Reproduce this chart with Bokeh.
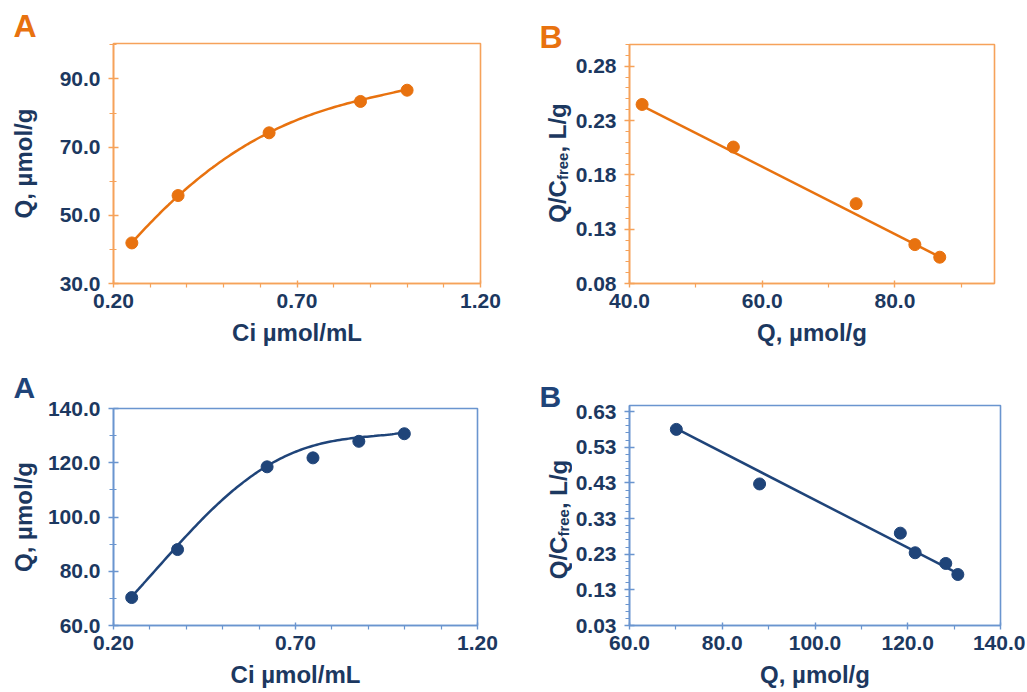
import numpy as np
from bokeh.plotting import figure
from bokeh.layouts import column, row
from bokeh.models import FixedTicker, Label, Range1d, PrintfTickFormatter
from bokeh.embed import file_html
from bokeh.resources import INLINE

# ---------------- data ----------------
# Panel A (top): Langmuir isotherm, orange
tl_ci = [0.25, 0.376, 0.624, 0.873, 1.0]
tl_q = [41.9, 55.8, 74.2, 83.4, 86.7]
tl_fit_ci = [0.25, 0.376, 0.4375, 0.528, 0.624, 0.7095, 0.80, 0.873, 1.0]
tl_fit_q = [41.9, 55.8, 61.3, 68.1, 74.5, 78.4, 81.6, 83.8, 86.9]

# Panel B (top): Scatchard plot, orange
tr_q = [41.9, 55.65, 74.15, 83.0, 86.75]
tr_qc = [0.2448, 0.2056, 0.1535, 0.1158, 0.1042]
tr_fit_q = [41.9, 86.75]
tr_fit_qc = [0.2436, 0.1045]

# Panel A (bottom): navy
bl_ci = [0.25, 0.376, 0.622, 0.748, 0.874, 0.999]
bl_q = [70.3, 88.0, 118.5, 121.8, 127.9, 130.7]
bl_fit_ci = [0.2505, 0.374, 0.4657, 0.557, 0.621, 0.6945, 0.786, 0.878, 0.997]
bl_fit_q = [70.8, 89.1, 102.3, 112.7, 118.9, 123.7, 127.4, 129.5, 131.1]

# Panel B (bottom): navy
br_q = [70.1, 88.05, 118.4, 121.6, 128.2, 130.8]
br_qc = [0.580, 0.427, 0.289, 0.234, 0.204, 0.173]
br_fit_q = [70.1, 130.8]
br_fit_qc = [0.582, 0.176]

# tick values
a_x_major = [0.2, 0.7, 1.2]
a_x_minor = [0.3, 0.4, 0.5, 0.6, 0.8, 0.9, 1.0, 1.1]
tl_y_major = [30, 50, 70, 90]
tl_y_minor = [40, 60, 80, 100]
tr_x_major = [40, 60, 80]
tr_x_minor = [50, 70, 90]
tr_y_major = [0.08, 0.13, 0.18, 0.23, 0.28]
tr_y_minor = [round(0.08 + 0.01 * i, 2) for i in range(23)]
bl_y_major = [60, 80, 100, 120, 140]
bl_y_minor = [70, 90, 110, 130]
br_x_major = [60, 80, 100, 120, 140]
br_x_minor = [70, 90, 110, 130]
br_y_major = [0.03, 0.13, 0.23, 0.33, 0.43, 0.53, 0.63]
br_y_minor = [round(0.03 + 0.02 * i, 2) for i in range(32)]

# ---------------- styling ----------------
ORANGE = "#E8720F"
ORANGE_FRAME = "#F6A25A"
NAVY = "#1F4479"
BLUE_FRAME = "#6A95CF"
TEXT = "#1C3860"
FONT = "Liberation Sans"
TICK_SIZE = "21px"
TITLE_SIZE = "24px"


def no_align(p):
    if "frame_align" in p.properties():
        p.frame_align = False


def make_panel(width, height, bl, br, bt, bb, xr, yr, xmaj, xmin, ymaj, ymin,
               xfmt, yfmt, frame_color, xlabel, ylabel, ylab_standoff,
               x_lab_standoff=6, x_title_standoff=8):
    p = figure(width=width, height=height, x_range=Range1d(*xr), y_range=Range1d(*yr),
               output_backend="svg", toolbar_location=None,
               min_border_left=bl, min_border_right=br, min_border_top=bt, min_border_bottom=bb)
    no_align(p)
    p.grid.visible = False
    p.outline_line_color = frame_color
    p.outline_line_width = 1.6
    p.outline_line_alpha = 1.0
    p.background_fill_color = "white"
    p.border_fill_color = "white"
    p.xaxis.ticker = FixedTicker(ticks=xmaj, minor_ticks=xmin)
    p.yaxis.ticker = FixedTicker(ticks=ymaj, minor_ticks=ymin)
    p.xaxis.formatter = PrintfTickFormatter(format=xfmt)
    p.yaxis.formatter = PrintfTickFormatter(format=yfmt)
    for ax in (p.xaxis[0], p.yaxis[0]):
        ax.axis_line_color = frame_color
        ax.axis_line_width = 1.6
        ax.major_tick_line_color = frame_color
        ax.minor_tick_line_color = frame_color
        ax.major_tick_line_width = 1.4
        ax.minor_tick_line_width = 1.2
        ax.major_label_text_font = FONT
        ax.major_label_text_font_style = "bold"
        ax.major_label_text_font_size = TICK_SIZE
        ax.major_label_text_color = TEXT
        ax.axis_label_text_font = FONT
        ax.axis_label_text_font_style = "bold"
        ax.axis_label_text_font_size = TITLE_SIZE
        ax.axis_label_text_color = TEXT
    p.xaxis.major_tick_in = 3
    p.xaxis.major_tick_out = 4
    p.xaxis.minor_tick_in = 0
    p.xaxis.minor_tick_out = 4
    p.yaxis.major_tick_in = 5
    p.yaxis.major_tick_out = 5
    p.yaxis.minor_tick_in = 3
    p.yaxis.minor_tick_out = 4
    p.xaxis.major_label_standoff = x_lab_standoff
    p.yaxis.major_label_standoff = 8
    p.xaxis.axis_label = xlabel
    p.xaxis.axis_label_standoff = x_title_standoff
    if ylabel:
        p.yaxis.axis_label = ylabel
        p.yaxis.axis_label_standoff = ylab_standoff
    return p


def add_letter(p, letter, offset, standoff, color, size):
    p.title.text = letter
    p.title.align = "left"
    p.title.offset = offset
    p.title.standoff = standoff
    p.title.text_font = FONT
    p.title.text_font_style = "bold"
    p.title.text_font_size = size
    p.title.text_color = color


def make_strip(width, height, letter, letter_color, letter_size, letter_x, letter_y,
               title_base_x, title_center_y):
    """Narrow figure (no axes) holding the panel letter and the rotated
    'Q/C_free, L/g' axis title with a real subscript."""
    s = figure(width=width, height=height, x_range=Range1d(0, width), y_range=Range1d(0, height),
               output_backend="svg", toolbar_location=None, x_axis_location=None,
               y_axis_location=None, min_border=0)
    no_align(s)
    s.grid.visible = False
    s.outline_line_color = None
    s.background_fill_color = "white"
    s.border_fill_color = "white"
    s.add_layout(Label(x=letter_x, y=letter_y, x_units="screen", y_units="screen",
                       text=letter, text_font=FONT, text_font_style="bold",
                       text_font_size=letter_size, text_color=letter_color,
                       text_align="left", text_baseline="alphabetic"))
    s_main, s_sub = 24, 15
    w1 = 1.778 * s_main
    w2 = 1.834 * s_sub
    w3 = 2.056 * s_main
    y0 = title_center_y - (w1 + w2 + w3) / 2
    parts = [("Q/C", s_main, y0, title_base_x), ("free", s_sub, y0 + w1, title_base_x + 5),
             (", L/g", s_main, y0 + w1 + w2, title_base_x)]
    for txt, sz, yy, xx in parts:
        s.add_layout(Label(x=xx, y=yy, x_units="screen", y_units="screen", text=txt,
                           angle=np.pi / 2, text_font=FONT, text_font_style="bold",
                           text_font_size=f"{sz}px", text_color=TEXT,
                           text_align="left", text_baseline="alphabetic"))
    return s


def smooth(xs, ys, deg=4):
    c = np.polyfit(xs, ys, deg)
    xx = np.linspace(xs[0], xs[-1], 120)
    return xx, np.polyval(c, xx)


# ---------------- top-left (A, orange) ----------------
tl = make_panel(520, 356, 113, 40, 43, 73, (0.2, 1.2), (30, 100.4),
                a_x_major, a_x_minor, tl_y_major, tl_y_minor, "%.2f", "%.1f",
                ORANGE_FRAME, "Ci µmol/mL", "Q, µmol/g", 20)
xx, yy = smooth(tl_fit_ci, tl_fit_q)
tl.line(xx, yy, line_color=ORANGE, line_width=2.5)
tl.scatter(tl_ci, tl_q, size=12, fill_color=ORANGE, line_color=ORANGE)
add_letter(tl, "A", -100, 0, ORANGE, "32px")

# ---------------- top-right (B, orange) ----------------
tr_strip = make_strip(52, 356, "B", ORANGE, "32px", 19, 319.5, 37, 193.5)
tr = make_panel(453, 356, 55, 31, 44, 73, (40, 95), (0.08, 0.30),
                tr_x_major, tr_x_minor, tr_y_major, tr_y_minor, "%.1f", "%.2f",
                ORANGE_FRAME, "Q, µmol/g", None, 0)
tr.line(tr_fit_q, tr_fit_qc, line_color=ORANGE, line_width=2.5)
tr.scatter(tr_q, tr_qc, size=12, fill_color=ORANGE, line_color=ORANGE)
tr.yaxis.minor_tick_in = 0

# ---------------- bottom-left (A, navy) ----------------
bl = make_panel(520, 334, 113, 43, 52, 64, (0.2, 1.2), (60, 140),
                a_x_major, a_x_minor, bl_y_major, bl_y_minor, "%.2f", "%.1f",
                BLUE_FRAME, "Ci µmol/mL", "Q, µmol/g", 8, 6, 8)
xx, yy = smooth(bl_fit_ci, bl_fit_q)
bl.line(xx, yy, line_color=NAVY, line_width=2.5)
bl.scatter(bl_ci, bl_q, size=12, fill_color=NAVY, line_color=NAVY)
add_letter(bl, "A", -100, 9, NAVY, "30px")

# ---------------- bottom-right (B, navy) ----------------
br_strip = make_strip(52, 334, "B", NAVY, "30px", 19, 294, 38, 171)
br = make_panel(453, 334, 55, 25, 49, 64, (60, 140), (0.03, 0.647),
                br_x_major, br_x_minor, br_y_major, br_y_minor, "%.1f", "%.2f",
                BLUE_FRAME, "Q, µmol/g", None, 0, 6, 8)
br.line(br_fit_q, br_fit_qc, line_color=NAVY, line_width=2.5)
br.scatter(br_q, br_qc, size=12, fill_color=NAVY, line_color=NAVY)
br.yaxis.minor_tick_in = 0

layout = column(row(tl, tr_strip, tr), row(bl, br_strip, br))
open("out.html", "w").write(file_html(layout, INLINE))
